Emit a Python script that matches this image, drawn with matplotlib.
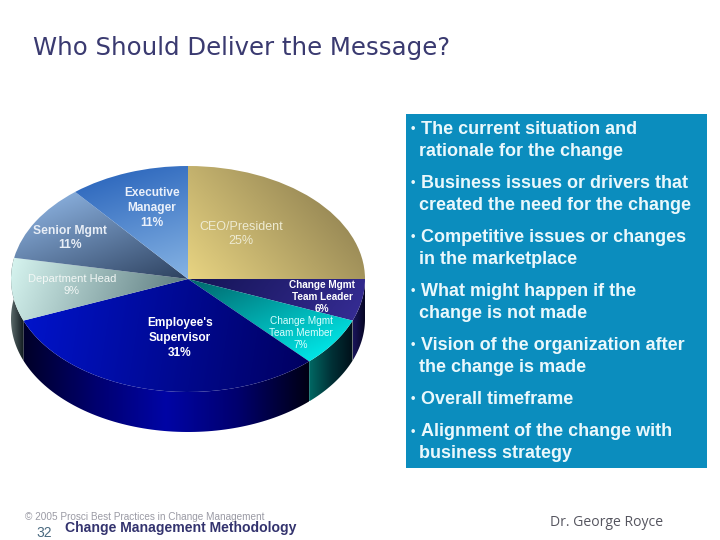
import numpy as np
import matplotlib
matplotlib.use("Agg")
import matplotlib.pyplot as plt
from matplotlib.patches import Polygon, Rectangle

# donnees
categories = ["CEO/President", "Change Mgmt\nTeam Leader", "Change Mgmt\nTeam Member",
              "Employee's\nSupervisor", "Department Head", "Senior Mgmt", "Executive\nManager"]
shares = [25, 6, 7, 31, 9, 11, 11]

bullets = [
    ["The current situation and", "rationale for the change"],
    ["Business issues or drivers that", "created the need for the change"],
    ["Competitive issues or changes", "in the marketplace"],
    ["What might happen if the", "change is not made"],
    ["Vision of the organization after", "the change is made"],
    ["Overall timeframe"],
    ["Alignment of the change with", "business strategy"],
]
title = "Who Should Deliver the Message?"
copyright_text = "© 2005 Prosci Best Practices in Change Management"
footer_text = "Change Management Methodology"
page_number = "32"
author = "Dr. George Royce"

# couleurs (debut, fin, direction du degrade) pour chaque part
face_styles = [
    ((232, 212, 130), (128, 114, 72), (1, 0.55)),
    ((20, 20, 85), (55, 45, 150), (1, -0.5)),
    ((0, 100, 105), (0, 248, 248), (0.7, -1)),
    ((0, 20, 205), (0, 0, 95), (1, -0.1)),
    ((215, 245, 240), (85, 115, 120), (1, -0.25)),
    ((150, 190, 238), (45, 65, 95), (0.6, -1)),
    ((35, 95, 185), (135, 180, 228), (0.5, -1)),
]
side_styles = {
    1: [(25, 20, 90), (5, 5, 30)],
    2: [(0, 105, 100), (0, 50, 55), (0, 15, 25)],
    3: [(0, 0, 40), (0, 0, 110), (0, 5, 165), (0, 0, 110), (0, 0, 20)],
    4: [(90, 105, 105), (15, 25, 30)],
}
side_depth = 0.354

label_pos = [(241, 234), (322, 297), (301, 333), (180, 338), (72, 285), (70, 238), (152, 208)]
label_size = [9, 7.2, 7.2, 8.6, 8, 8.7, 8.6]
label_spacing = [1.25, 1.25, 1.25, 1.38, 1.3, 1.3, 1.38]
label_color = ["#EEEBD2", "white", "#D8FFFF", "white", "#F2F7F5", "#E8EEF6", "#EAF0FA"]
label_weight = ["normal", "bold", "normal", "bold", "normal", "bold", "bold"]


def gradient(ax, stops, direction, box, clip, n=200):
    x0, x1, y0, y1 = box
    xx, yy = np.meshgrid(np.linspace(x0, x1, n), np.linspace(y0, y1, n))
    t = xx * direction[0] + yy * direction[1]
    t = (t - t.min()) / (t.max() - t.min())
    pos = np.linspace(0, 1, len(stops))
    rgb = np.dstack([np.interp(t, pos, [s[i] / 255 for s in stops]) for i in range(3)])
    im = ax.imshow(rgb, extent=(x0, x1, y0, y1), origin="lower", aspect="auto",
                   interpolation="bilinear", zorder=2)
    im.set_clip_path(clip)
    return im


plt.rcParams["font.family"] = ["Liberation Sans", "DejaVu Sans"]
fig = plt.figure(figsize=(7.2, 5.4), dpi=100, facecolor="white")

# repere en pixels pour le texte et le cadre
page = fig.add_axes([0, 0, 1, 1])
page.set_xlim(0, 720)
page.set_ylim(540, 0)
page.axis("off")

page.text(33, 48, title, fontsize=17.6, color="#3A3A70", family="DejaVu Sans", va="center")
page.add_patch(Rectangle((406, 114), 301, 354, facecolor="#0B8DBE", edgecolor="none"))

first_lines = [129, 183, 237, 291, 345, 399, 432]
for lines, y in zip(bullets, first_lines):
    page.text(411, y, "•", fontsize=9, color="#EAF8FC", va="center", weight="bold")
    page.text(421, y, lines[0], fontsize=13, color="#EAF8FC", weight="bold", va="center")
    if len(lines) > 1:
        page.text(419, y + 22, lines[1], fontsize=13, color="#EAF8FC", weight="bold", va="center")

page.text(25, 517, copyright_text, fontsize=7.2, color="#9A9AA4", va="center")
page.text(65, 528, footer_text, fontsize=10.1, color="#33336E", weight="bold", va="center")
page.text(36, 533, page_number, fontsize=10, color="#4A6A80", va="center")
page.text(550, 522, author, fontsize=10.05, color="#55555F", family="Open Sans", va="center")

# camembert : l'ellipse vient d'un axe non carre
ax = fig.add_axes([11 / 720, 1 - 432 / 540, 354 / 720, 266 / 540])
wedges, _ = ax.pie(shares, startangle=90, counterclock=False, radius=1,
                   colors=["none"] * len(shares), wedgeprops={"linewidth": 0})
ax.set_aspect("auto")

edges = 90 - 3.6 * np.concatenate([[0], np.cumsum(shares)])
for i, stops in side_styles.items():
    a = np.radians(np.linspace(edges[i], edges[i + 1], 80))
    a = a[np.sin(a) <= 0.19]
    top = np.column_stack([np.cos(a), np.sin(a)])
    low = top[::-1] - [0, side_depth]
    poly = Polygon(np.vstack([top, low]), closed=True, transform=ax.transData, facecolor="none", edgecolor="none")
    ax.add_patch(poly)
    x0, y0 = np.vstack([top, low]).min(axis=0)
    x1, y1 = np.vstack([top, low]).max(axis=0)
    gradient(ax, stops, (1, 0), (x0, x1, y0, y1), poly)

for w, (c0, c1, d) in zip(wedges, face_styles):
    ext = w.get_path().get_extents()
    im = gradient(ax, [c0, c1], d, (ext.x0, ext.x1, ext.y0, ext.y1), w)
    im.set_zorder(3)

ax.set_xlim(-1, 1)
ax.set_ylim(-1 - side_depth, 1)
ax.axis("off")

for name, share, (x, y), size, sp, col, weight in zip(categories, shares, label_pos, label_size, label_spacing, label_color, label_weight):
    page.text(x, y, f"{name}\n{share}%", fontsize=size, color=col, weight=weight,
              ha="center", va="center", linespacing=sp, zorder=10)
page.set_zorder(5)
page.patch.set_alpha(0)

fig.savefig("out.png", dpi=100)
